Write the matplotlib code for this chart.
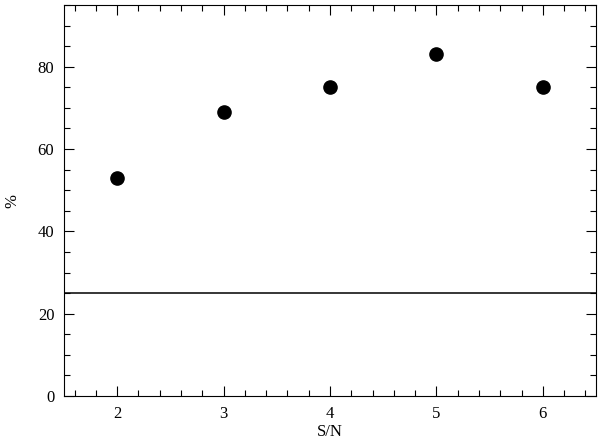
import numpy as np
import matplotlib
matplotlib.use("Agg")
import matplotlib.pyplot as plt
from matplotlib.ticker import MultipleLocator

# data
sn = [2, 3, 4, 5, 6]
percent = [53, 69, 75, 83, 75]
chance_level = 25

plt.rcParams['font.family'] = ['Liberation Serif', 'DejaVu Serif']

fig = plt.figure(figsize=(6.0, 4.43), dpi=100)
ax = fig.add_axes([64/600, 1-396/443, (596-64)/600, (396-5)/443])

ax.plot(sn, percent, 'o', color='black', markersize=9.5)
ax.axhline(chance_level, color='black', lw=1.1)

ax.set_xlim(1.5, 6.5)
ax.set_ylim(0, 95)
ax.xaxis.set_major_locator(MultipleLocator(1))
ax.xaxis.set_minor_locator(MultipleLocator(0.2))
ax.yaxis.set_major_locator(MultipleLocator(20))
ax.yaxis.set_minor_locator(MultipleLocator(5))
ax.tick_params(which='both', direction='in', top=True, right=True, labelsize=12, width=0.8)
ax.tick_params(which='major', length=7, pad=7)
ax.tick_params(which='minor', length=4)
for s in ax.spines.values():
    s.set_linewidth(0.8)

ax.set_xlabel('S/N', fontsize=12, labelpad=2)
ax.set_ylabel('%', fontsize=12, va='center')
ax.yaxis.set_label_coords(-0.097, 0.5)

fig.savefig('out.png', dpi=100)
